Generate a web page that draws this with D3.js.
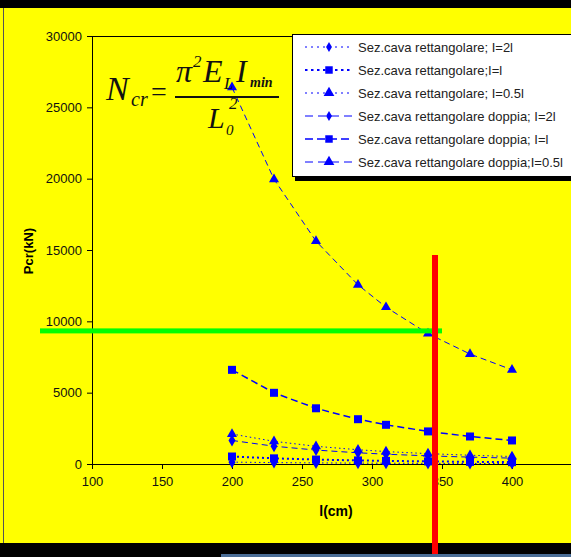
<!DOCTYPE html>
<html><head><meta charset="utf-8">
<script src="https://cdn.jsdelivr.net/npm/d3@7"></script>
<style>html,body{margin:0;padding:0;background:#ffff00;}svg{display:block;}</style>
</head><body>
<script>
const lengths = [200, 230, 260, 290, 310, 340, 370, 400];
const rettI2l   = [131, 99, 78, 62, 55, 45, 38, 33];
const rettIl    = [525, 397, 311, 250, 218, 182, 153, 131];
const rettI05l  = [2100, 1590, 1240, 1000, 870, 727, 614, 525];
const doppI2l   = [1650, 1248, 976, 785, 687, 571, 482, 412];
const doppIl    = [6600, 4990, 3905, 3140, 2747, 2284, 1928, 1650];
const doppI05l  = [26400, 19960, 15620, 12560, 10990, 9135, 7710, 6600];
const seriesNames = [
  "Sez.cava rettangolare; I=2l",
  "Sez.cava rettangolare;I=l",
  "Sez.cava rettangolare; I=0.5l",
  "Sez.cava rettangolare doppia; I=2l",
  "Sez.cava rettangolare doppia; I=l",
  "Sez.cava rettangolare doppia;I=0.5l"
];
const xTicks = [100, 150, 200, 250, 300, 350, 400];
const yTicks = [0, 5000, 10000, 15000, 20000, 25000, 30000];
const greenLevel = 9330;   // horizontal reference line (kN)
const redLength = 345;     // vertical reference line (cm)

const W = 571, H = 557;
const svg = d3.select("body").append("svg").attr("width", W).attr("height", H);

// background frame
svg.append("rect").attr("width", W).attr("height", H).attr("fill", "#ffff00");
svg.append("rect").attr("x", 0).attr("y", 0).attr("width", W).attr("height", 8).attr("fill", "#000");
svg.append("rect").attr("x", 3).attr("y", 8).attr("width", 1).attr("height", 535).attr("fill", "#555");
svg.append("rect").attr("x", 0).attr("y", 543).attr("width", W).attr("height", 14).attr("fill", "#000");
svg.append("rect").attr("x", 221).attr("y", 554).attr("width", W - 221).attr("height", 3).attr("fill", "#4a6d96");

const x = d3.scaleLinear().domain([100, 400]).range([92, 512]);
const xAxisScale = d3.scaleLinear().domain([100, 450]).range([92, 582]);
const y = d3.scaleLinear().domain([0, 30000]).range([464, 36]);

// top frame line
svg.append("line").attr("x1", 92).attr("x2", W).attr("y1", 36.5).attr("y2", 36.5).attr("stroke", "#000");

const gx = svg.append("g").attr("transform", "translate(0,464)")
  .call(d3.axisBottom(xAxisScale).tickValues(xTicks).tickFormat(d3.format("d")).tickSize(5).tickSizeOuter(0).tickPadding(8));
const gy = svg.append("g").attr("transform", "translate(92,0)")
  .call(d3.axisLeft(y).tickValues(yTicks).tickFormat(d3.format("d")).tickSize(5).tickSizeOuter(0).tickPadding(5));
[gx, gy].forEach(g => {
  g.selectAll("text").attr("font-family", "Liberation Sans, Arial, sans-serif").attr("font-size", 13).attr("fill", "#111");
  g.selectAll("line,path").attr("stroke", "#000");
});

// axis titles
svg.append("text").attr("x", 336).attr("y", 516).attr("text-anchor", "middle")
  .attr("font-family", "Liberation Sans, Arial, sans-serif").attr("font-weight", "bold").attr("font-size", 14).text("l(cm)");
svg.append("text").attr("transform", "translate(33,251) rotate(-90)").attr("text-anchor", "middle")
  .attr("font-family", "Liberation Sans, Arial, sans-serif").attr("font-weight", "bold").attr("font-size", 13).text("Pcr(kN)");

// series
const seriesValues = [rettI2l, rettIl, rettI05l, doppI2l, doppIl, doppI05l];
const symbols = [d3.symbolDiamond, d3.symbolSquare, d3.symbolTriangle, d3.symbolDiamond, d3.symbolSquare, d3.symbolTriangle];
const symSizes = [42, 64, 44, 42, 64, 44];
const dashes = ["1.5,3", "2,3", "1.5,3", "6,4", "7,4", "6,4"];
const widths = [1, 2, 1, 1, 1.5, 1];
const blue = "#0000ff";
const line = d3.line().x(d => x(d[0])).y(d => y(d[1]));

seriesValues.forEach((vals, i) => {
  const pts = lengths.map((l, k) => [l, vals[k]]);
  svg.append("path").attr("d", line(pts)).attr("fill", "none").attr("stroke", blue)
    .attr("stroke-width", widths[i]).attr("stroke-dasharray", dashes[i]);
  svg.append("g").selectAll("path").data(pts).join("path")
    .attr("transform", d => `translate(${x(d[0])},${y(d[1])})`)
    .attr("d", d3.symbol().type(symbols[i]).size(symSizes[i]))
    .attr("fill", blue);
});

// formula
const f = svg.append("g").attr("font-family", "Liberation Serif, Times New Roman, serif").attr("fill", "#111").attr("font-style", "italic");
function formula(parts) {
  const txt = f.append("text");
  parts.forEach(p => {
    txt.append("tspan").attr("x", p[0]).attr("y", p[1]).attr("font-size", p[3])
      .attr("font-style", p[4] === "n" ? "normal" : "italic")
      .attr("font-weight", p[4] === "b" ? "bold" : "normal").text(p[2]);
  });
}
formula([[106, 100, "N", 34], [131, 106, "cr", 20], [151, 101, "=", 28, "n"]]);
formula([[176, 82, "π", 32], [193, 67, "2", 17], [203, 82, "E", 32], [224, 89, "L", 17], [236, 82, "I", 32], [250, 87, "min", 14, "b"]]);
f.append("rect").attr("x", 175).attr("y", 96).attr("width", 104).attr("height", 2);
formula([[208, 128, "L", 30], [229, 109, "2", 17], [226, 135, "0", 15]]);

// legend
const lg = svg.append("g");
lg.append("rect").attr("x", 295).attr("y", 37).attr("width", 300).attr("height", 144).attr("fill", "#000");
lg.append("rect").attr("x", 292.5).attr("y", 34.5).attr("width", 300).attr("height", 142).attr("fill", "#fff").attr("stroke", "#000");
const legDash = ["2,4", "2.5,3.5", "2,4", "8,5", "8,4", "8,5"];
const legW = [1, 2, 1, 1, 1.5, 1];
const legSizes = [30, 56, 50, 30, 56, 50];
seriesNames.forEach((name, i) => {
  const cy = 47 + i * 23;
  lg.append("line").attr("x1", 305).attr("x2", 353).attr("y1", cy).attr("y2", cy)
    .attr("stroke", blue).attr("stroke-width", legW[i]).attr("stroke-dasharray", legDash[i]);
  lg.append("path").attr("transform", `translate(329,${cy})`)
    .attr("d", d3.symbol().type(symbols[i]).size(legSizes[i])).attr("fill", blue);
  lg.append("text").attr("x", 358).attr("y", cy + 4.5)
    .attr("font-family", "Liberation Sans, Arial, sans-serif").attr("font-size", 13).attr("fill", "#222").text(name);
});

// reference lines
svg.append("rect").attr("x", 40).attr("y", y(greenLevel) - 2.5).attr("width", x(350) - 40).attr("height", 5).attr("fill", "#00ff00");
svg.append("rect").attr("x", x(redLength) - 3).attr("y", 255).attr("width", 6).attr("height", 554 - 255).attr("fill", "#ff0000");
</script>
</body></html>
